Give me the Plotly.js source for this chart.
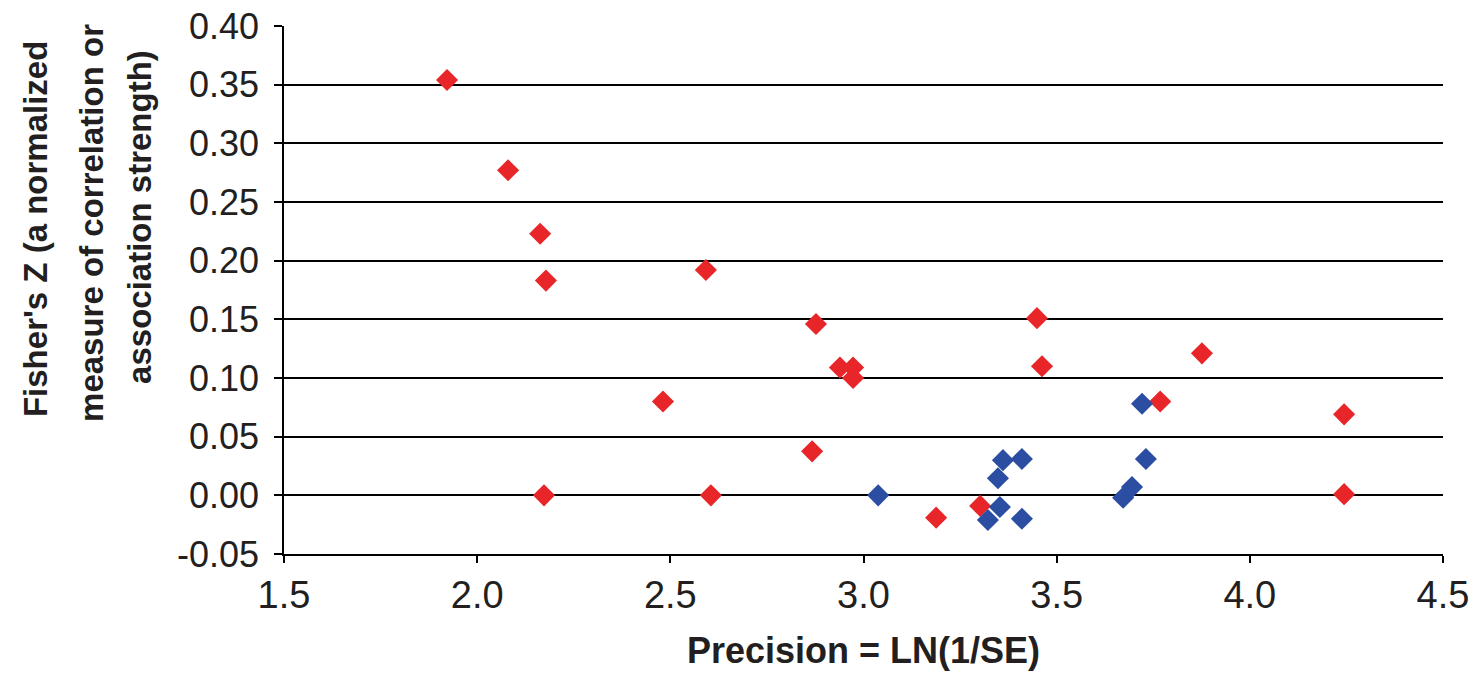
<!DOCTYPE html>
<html>
<head>
<meta charset="utf-8">
<script src="https://cdn.plot.ly/plotly-3.0.1.min.js"></script>
<style>html,body{margin:0;padding:0;background:#fff;}#chart{width:1480px;height:677px;}</style>
</head>
<body>
<div id="chart"></div>
<script>
// Red series: precision and Fisher's Z
const redPrecision = [1.922, 2.080, 2.163, 2.178, 2.173, 2.592, 2.481, 2.605, 2.877, 2.867, 2.939, 2.973, 2.973, 3.449, 3.462, 3.188, 3.302, 3.768, 3.876, 4.244, 4.244];
const redZ         = [0.354, 0.277, 0.223, 0.183, 0.000, 0.192, 0.080, 0.000, 0.146, 0.0375, 0.109, 0.109, 0.100, 0.151, 0.110, -0.019, -0.009, 0.080, 0.121, 0.069, 0.001];
// Blue series
const bluePrecision = [3.038, 3.361, 3.410, 3.348, 3.353, 3.322, 3.410, 3.721, 3.731, 3.672, 3.695];
const blueZ         = [0.000, 0.030, 0.031, 0.0145, -0.010, -0.021, -0.020, 0.078, 0.031, -0.002, 0.007];

const xTicks = [1.5, 2.0, 2.5, 3.0, 3.5, 4.0, 4.5];
const xTickText = ["1.5", "2.0", "2.5", "3.0", "3.5", "4.0", "4.5"];
const yTicks = [-0.05, 0.00, 0.05, 0.10, 0.15, 0.20, 0.25, 0.30, 0.35, 0.40];
const yTickText = ["-0.05", "0.00", "0.05", "0.10", "0.15", "0.20", "0.25", "0.30", "0.35", "0.40"];
const yTitleLines = ["Fisher's Z (a normalized", "measure of correlation or", "association strength)"];

const font = "Liberation Sans, Arial, sans-serif";

const traces = [
  {x: redPrecision, y: redZ, type: 'scatter', mode: 'markers',
   marker: {symbol: 'diamond', size: 17, color: '#e8262a'}},
  {x: bluePrecision, y: blueZ, type: 'scatter', mode: 'markers',
   marker: {symbol: 'diamond', size: 17, color: '#2b4ea2'}}
];

const titleX = [-0.2148, -0.1657, -0.1243];
const titleY = [0.6155, 0.6269, 0.6383];
const annotations = yTitleLines.map((t, i) => ({
  text: '<b>' + t + '</b>', textangle: -90, showarrow: false,
  xref: 'paper', yref: 'paper', x: titleX[i], y: titleY[i],
  xanchor: 'center', yanchor: 'middle',
  font: {size: 33, family: font, color: '#231f20'}
}));

const layout = {
  width: 1480, height: 677,
  margin: {l: 284, r: 37, t: 26, b: 123},
  paper_bgcolor: '#fff', plot_bgcolor: '#fff',
  showlegend: false,
  font: {family: font, color: '#231f20'},
  xaxis: {
    range: [1.5, 4.5], tickvals: xTicks, ticktext: xTickText,
    showgrid: false, zeroline: false,
    showline: true, linecolor: '#000', linewidth: 1.5,
    ticks: 'outside', ticklen: 7, tickcolor: '#000', tickwidth: 1.5,
    tickfont: {size: 38, family: font, color: '#231f20'},
    title: {text: '<b>Precision = LN(1/SE)</b>', font: {size: 36, family: font, color: '#231f20'}, standoff: 22}
  },
  yaxis: {
    range: [-0.05, 0.40], tickvals: yTicks, ticktext: yTickText,
    showgrid: true, gridcolor: '#000', gridwidth: 1.5,
    zeroline: false,
    showline: true, linecolor: '#000', linewidth: 1.5,
    ticks: 'outside', ticklen: 8, tickcolor: '#000', tickwidth: 1.5,
    ticklabelstandoff: 8,
    tickfont: {size: 36, family: font, color: '#231f20'}
  },
  annotations: annotations
};

Plotly.newPlot('chart', traces, layout, {displayModeBar: false});
</script>
</body>
</html>
